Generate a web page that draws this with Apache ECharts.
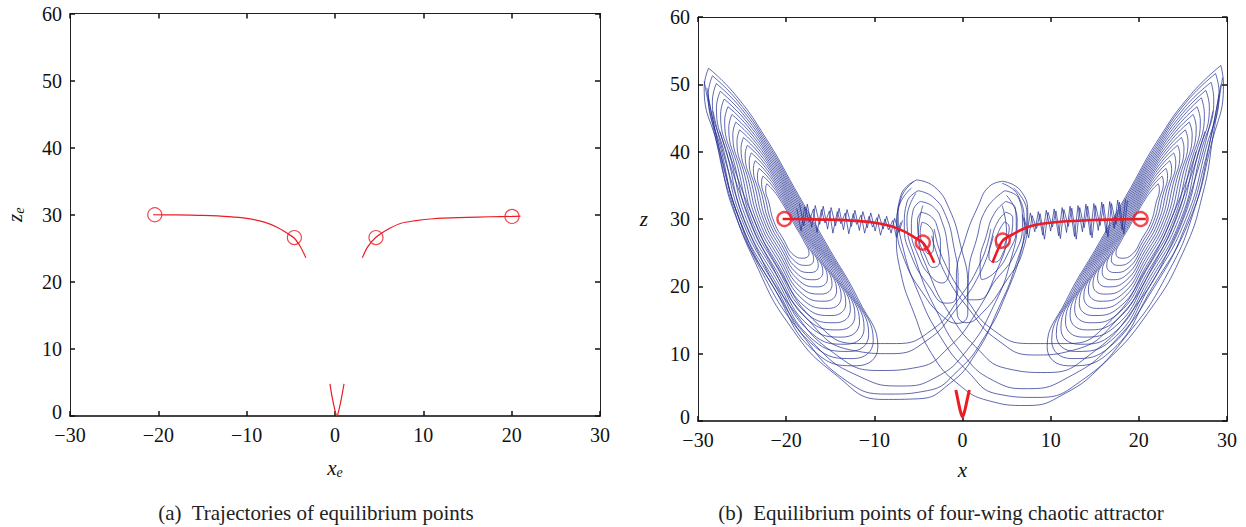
<!DOCTYPE html>
<html>
<head>
<meta charset="utf-8">
<script src="https://cdn.jsdelivr.net/npm/echarts@6/dist/echarts.min.js"></script>
<style>
  html, body { margin: 0; padding: 0; background: #fff; }
  #chart { width: 1246px; height: 527px; }
</style>
</head>
<body>
<div id="chart"></div>
<script>
// ---- Panel (a): trajectories of the equilibrium points (x_e, z_e) ----
const trackLeftA  = [[-20.6,30.0],[-18,29.98],[-15,29.9],[-12,29.72],[-10,29.45],[-8,28.9],[-6.5,28.1],[-5.5,27.3],[-4.6,26.5],[-3.9,25.2],[-3.3,23.6]];
const trackRightA = [[3.1,23.6],[3.7,25.2],[4.6,26.6],[5.8,27.7],[7.4,28.7],[9,29.1],[11.1,29.4],[14.9,29.6],[17.5,29.7],[20.0,29.75],[21.0,29.8]];
const trackZeroA  = [[-0.57,4.8],[-0.35,3.0],[-0.1,1.4],[0.1,0.3],[0.2,0.0],[0.35,0.4],[0.6,1.8],[0.82,3.3],[1.02,4.8]];
const equilibriaA = [[-20.4,30.0],[-4.6,26.6],[4.64,26.6],[20.04,29.75]];

// ---- Panel (b): equilibrium points over the four-wing attractor (x, z) ----
const trackLeftB  = [[-20.4,30.0],[-18,29.98],[-15,29.9],[-12,29.72],[-10,29.45],[-8,28.9],[-6.5,28.1],[-5.5,27.3],[-4.5,26.5],[-3.8,25.1],[-3.2,23.5]];
const trackRightB = [[3.4,23.5],[3.9,25.1],[4.56,26.8],[5.8,27.8],[7.4,28.8],[9,29.3],[11.1,29.6],[14.9,29.85],[17.5,29.95],[20.2,30.0],[20.8,30.0]];
const trackZeroB  = [[-0.75,4.6],[-0.5,3.0],[-0.25,1.5],[0,0.6],[0.25,1.5],[0.5,3.0],[0.78,4.6]];
const equilibriaB = [[-20.2,30.0],[-4.5,26.5],[4.56,26.8],[20.2,30.0]];

// left wing of the attractor: nested loops round (-20, 30), outermost first
const leftWing = [
  [[-28.8,52.4],[-25.8,48.5],[-22.3,42.0],[-18.8,34.0],[-15.3,26.0],[-11.8,18.0],[-9.6,11.0],[-12.0,8.2],[-16.5,10.0],[-21.5,20.0],[-25.6,30.0],[-27.8,41.0],[-29.3,49.5],[-28.8,52.4]],
  [[-28.36,51.26],[-25.51,47.55],[-22.19,41.38],[-18.86,33.78],[-15.54,26.18],[-12.21,18.58],[-10.12,11.93],[-12.4,9.27],[-16.68,10.98],[-21.43,20.48],[-25.32,29.98],[-27.41,40.43],[-28.84,48.5],[-28.36,51.26]],
  [[-27.92,50.11],[-25.22,46.6],[-22.07,40.75],[-18.92,33.55],[-15.77,26.35],[-12.62,19.15],[-10.64,12.85],[-12.8,10.33],[-16.85,11.95],[-21.35,20.95],[-25.04,29.95],[-27.02,39.85],[-28.37,47.5],[-27.92,50.11]],
  [[-27.48,48.97],[-24.93,45.65],[-21.96,40.13],[-18.98,33.33],[-16.01,26.53],[-13.03,19.73],[-11.16,13.78],[-13.2,11.4],[-17.03,12.93],[-21.28,21.43],[-24.76,29.93],[-26.63,39.28],[-27.91,46.5],[-27.48,48.97]],
  [[-27.04,47.82],[-24.64,44.7],[-21.84,39.5],[-19.04,33.1],[-16.24,26.7],[-13.44,20.3],[-11.68,14.7],[-13.6,12.46],[-17.2,13.9],[-21.2,21.9],[-24.48,29.9],[-26.24,38.7],[-27.44,45.5],[-27.04,47.82]],
  [[-26.6,46.68],[-24.35,43.75],[-21.73,38.88],[-19.1,32.88],[-16.48,26.88],[-13.85,20.88],[-12.2,15.63],[-14.0,13.53],[-17.38,14.88],[-21.13,22.38],[-24.2,29.88],[-25.85,38.13],[-26.98,44.5],[-26.6,46.68]],
  [[-26.16,45.53],[-24.06,42.8],[-21.61,38.25],[-19.16,32.65],[-16.71,27.05],[-14.26,21.45],[-12.72,16.55],[-14.4,14.59],[-17.55,15.85],[-21.05,22.85],[-23.92,29.85],[-25.46,37.55],[-26.51,43.5],[-26.16,45.53]],
  [[-25.72,44.39],[-23.77,41.85],[-21.5,37.63],[-19.22,32.43],[-16.95,27.23],[-14.67,22.03],[-13.24,17.48],[-14.8,15.66],[-17.73,16.83],[-20.98,23.33],[-23.64,29.83],[-25.07,36.98],[-26.05,42.5],[-25.72,44.39]],
  [[-25.28,43.24],[-23.48,40.9],[-21.38,37.0],[-19.28,32.2],[-17.18,27.4],[-15.08,22.6],[-13.76,18.4],[-15.2,16.72],[-17.9,17.8],[-20.9,23.8],[-23.36,29.8],[-24.68,36.4],[-25.58,41.5],[-25.28,43.24]],
  [[-24.84,42.1],[-23.19,39.95],[-21.27,36.38],[-19.34,31.98],[-17.42,27.58],[-15.49,23.18],[-14.28,19.33],[-15.6,17.79],[-18.08,18.78],[-20.83,24.28],[-23.08,29.78],[-24.29,35.83],[-25.12,40.5],[-24.84,42.1]],
  [[-24.4,40.95],[-22.9,39.0],[-21.15,35.75],[-19.4,31.75],[-17.65,27.75],[-15.9,23.75],[-14.8,20.25],[-16.0,18.85],[-18.25,19.75],[-20.75,24.75],[-22.8,29.75],[-23.9,35.25],[-24.65,39.5],[-24.4,40.95]],
  [[-23.96,39.81],[-22.61,38.05],[-21.04,35.13],[-19.46,31.53],[-17.89,27.93],[-16.31,24.33],[-15.32,21.18],[-16.4,19.92],[-18.43,20.73],[-20.68,25.23],[-22.52,29.73],[-23.51,34.68],[-24.19,38.5],[-23.96,39.81]],
  [[-23.52,38.66],[-22.32,37.1],[-20.92,34.5],[-19.52,31.3],[-18.12,28.1],[-16.72,24.9],[-15.84,22.1],[-16.8,20.98],[-18.6,21.7],[-20.6,25.7],[-22.24,29.7],[-23.12,34.1],[-23.72,37.5],[-23.52,38.66]],
  [[-23.08,37.52],[-22.03,36.15],[-20.81,33.88],[-19.58,31.08],[-18.36,28.28],[-17.13,25.48],[-16.36,23.03],[-17.2,22.05],[-18.78,22.68],[-20.53,26.18],[-21.96,29.68],[-22.73,33.53],[-23.26,36.5],[-23.08,37.52]],
  [[-22.64,36.37],[-21.74,35.2],[-20.69,33.25],[-19.64,30.85],[-18.59,28.45],[-17.54,26.05],[-16.88,23.95],[-17.6,23.11],[-18.95,23.65],[-20.45,26.65],[-21.68,29.65],[-22.34,32.95],[-22.79,35.5],[-22.64,36.37]],
  [[-22.2,35.23],[-21.45,34.25],[-20.58,32.63],[-19.7,30.63],[-18.83,28.63],[-17.95,26.63],[-17.4,24.88],[-18.0,24.18],[-19.13,24.63],[-20.38,27.13],[-21.4,29.63],[-21.95,32.38],[-22.33,34.5],[-22.2,35.23]]
];

// right wing of the attractor: nested loops round (20, 30), outermost first
const rightWing = [
  [[29.3,52.8],[25.9,48.5],[22.3,42.0],[18.8,34.0],[15.3,26.0],[11.8,18.0],[9.6,11.0],[12.0,8.2],[16.5,10.0],[21.6,20.0],[25.8,30.0],[28.2,41.0],[29.6,50.0],[29.3,52.8]],
  [[28.7,51.6],[25.51,47.55],[22.19,41.38],[18.86,33.78],[15.54,26.18],[12.21,18.58],[10.12,11.93],[12.4,9.27],[16.68,10.98],[21.43,20.48],[25.32,29.98],[27.6,40.43],[29.1,48.8],[28.7,51.6]],
  [[28.2,50.3],[25.22,46.6],[22.07,40.75],[18.92,33.55],[15.77,26.35],[12.62,19.15],[10.64,12.85],[12.8,10.33],[16.85,11.95],[21.35,20.95],[25.04,29.95],[27.02,39.85],[28.5,47.7],[28.2,50.3]],
  [[27.6,49.1],[24.93,45.65],[21.96,40.13],[18.98,33.33],[16.01,26.53],[13.03,19.73],[11.16,13.78],[13.2,11.4],[17.03,12.93],[21.28,21.43],[24.76,29.93],[26.63,39.28],[28.0,46.6],[27.6,49.1]],
  [[27.1,48.0],[24.64,44.7],[21.84,39.5],[19.04,33.1],[16.24,26.7],[13.44,20.3],[11.68,14.7],[13.6,12.46],[17.2,13.9],[21.2,21.9],[24.48,29.9],[26.24,38.7],[27.44,45.5],[27.1,48.0]],
  [[26.6,46.68],[24.35,43.75],[21.73,38.88],[19.1,32.88],[16.48,26.88],[13.85,20.88],[12.2,15.63],[14.0,13.53],[17.38,14.88],[21.13,22.38],[24.2,29.88],[25.85,38.13],[26.98,44.5],[26.6,46.68]],
  [[26.16,45.53],[24.06,42.8],[21.61,38.25],[19.16,32.65],[16.71,27.05],[14.26,21.45],[12.72,16.55],[14.4,14.59],[17.55,15.85],[21.05,22.85],[23.92,29.85],[25.46,37.55],[26.51,43.5],[26.16,45.53]],
  [[25.72,44.39],[23.77,41.85],[21.5,37.63],[19.22,32.43],[16.95,27.23],[14.67,22.03],[13.24,17.48],[14.8,15.66],[17.73,16.83],[20.98,23.33],[23.64,29.83],[25.07,36.98],[26.05,42.5],[25.72,44.39]],
  [[25.28,43.24],[23.48,40.9],[21.38,37.0],[19.28,32.2],[17.18,27.4],[15.08,22.6],[13.76,18.4],[15.2,16.72],[17.9,17.8],[20.9,23.8],[23.36,29.8],[24.68,36.4],[25.58,41.5],[25.28,43.24]],
  [[24.84,42.1],[23.19,39.95],[21.27,36.38],[19.34,31.98],[17.42,27.58],[15.49,23.18],[14.28,19.33],[15.6,17.79],[18.08,18.78],[20.83,24.28],[23.08,29.78],[24.29,35.83],[25.12,40.5],[24.84,42.1]],
  [[24.4,40.95],[22.9,39.0],[21.15,35.75],[19.4,31.75],[17.65,27.75],[15.9,23.75],[14.8,20.25],[16.0,18.85],[18.25,19.75],[20.75,24.75],[22.8,29.75],[23.9,35.25],[24.65,39.5],[24.4,40.95]],
  [[23.96,39.81],[22.61,38.05],[21.04,35.13],[19.46,31.53],[17.89,27.93],[16.31,24.33],[15.32,21.18],[16.4,19.92],[18.43,20.73],[20.68,25.23],[22.52,29.73],[23.51,34.68],[24.19,38.5],[23.96,39.81]],
  [[23.52,38.66],[22.32,37.1],[20.92,34.5],[19.52,31.3],[18.12,28.1],[16.72,24.9],[15.84,22.1],[16.8,20.98],[18.6,21.7],[20.6,25.7],[22.24,29.7],[23.12,34.1],[23.72,37.5],[23.52,38.66]],
  [[23.08,37.52],[22.03,36.15],[20.81,33.88],[19.58,31.08],[18.36,28.28],[17.13,25.48],[16.36,23.03],[17.2,22.05],[18.78,22.68],[20.53,26.18],[21.96,29.68],[22.73,33.53],[23.26,36.5],[23.08,37.52]],
  [[22.64,36.37],[21.74,35.2],[20.69,33.25],[19.64,30.85],[18.59,28.45],[17.54,26.05],[16.88,23.95],[17.6,23.11],[18.95,23.65],[20.45,26.65],[21.68,29.65],[22.34,32.95],[22.79,35.5],[22.64,36.37]],
  [[22.2,35.23],[21.45,34.25],[20.58,32.63],[19.7,30.63],[18.83,28.63],[17.95,26.63],[17.4,24.88],[18.0,24.18],[19.13,24.63],[20.38,27.13],[21.4,29.63],[21.95,32.38],[22.33,34.5],[22.2,35.23]]
];

// small loops round the inner equilibria (-4.5, 26.5) and (4.5, 26.8)
const centreLeftLoops = [
  [[-5.2,35.8],[-3.2,34.8],[-1.5,31.5],[-0.2,26],[0.6,20],[0.6,16],[-0.5,14.5],[-2.2,15.5],[-4.5,19],[-6.6,24],[-7.4,29],[-7.0,33.5],[-5.2,35.8]],
  [[-5.0,34.2],[-3.3,33.2],[-1.9,30.5],[-1.0,26],[-0.5,21],[-0.8,18],[-1.9,17.5],[-3.8,20],[-5.8,24.5],[-6.6,29],[-6.3,32.5],[-5.0,34.2]],
  [[-4.8,32.6],[-3.3,31.8],[-2.3,29.5],[-1.7,26],[-1.5,22.5],[-2.3,20.5],[-3.6,21.5],[-5.0,24.5],[-5.8,28.5],[-5.6,31.3],[-4.8,32.6]],
  [[-4.7,31.0],[-3.5,30.3],[-2.8,28.5],[-2.5,26],[-2.6,23.5],[-3.3,22.8],[-4.2,24.5],[-5.0,27.5],[-5.1,29.8],[-4.7,31.0]],
  [[-4.6,29.5],[-3.8,29],[-3.3,27.5],[-3.3,25.5],[-3.8,24.8],[-4.4,26],[-4.8,28],[-4.6,29.5]]
];
const centreRightLoops = [
  [[4.6,35.6],[6.6,34.2],[7.4,30.5],[6.9,25.5],[4.8,20.5],[2.2,16],[0.4,14.6],[-0.6,16],[-0.7,21],[0.3,27],[1.8,32],[3.0,34.8],[4.6,35.6]],
  [[4.8,34.2],[6.4,33.0],[6.8,29.5],[6.0,25],[3.8,21],[1.7,18],[0.6,18],[0.7,22],[1.6,27],[2.7,31.5],[4.8,34.2]],
  [[4.9,32.6],[6.0,31.6],[6.1,28.8],[5.2,25],[3.6,22],[2.2,21],[2.0,23.5],[2.7,27.5],[3.6,30.8],[4.9,32.6]],
  [[4.9,31.0],[5.7,30.2],[5.6,28],[4.8,25.5],[3.7,23.6],[3.0,24.2],[3.3,27],[4.0,29.6],[4.9,31.0]],
  [[4.8,29.6],[5.3,28.8],[5.0,27],[4.3,25.6],[3.8,26],[4.0,27.8],[4.8,29.6]]
];

// excursions that leave a wing, pass under the centre and wind round the opposite inner point
const crossFromLeft = [
  [[-29.3,50.5],[-28.0,42],[-26.3,33],[-23.5,23.5],[-19.5,14],[-14.5,7],[-9,3.2],[-5,3.3],[-1.5,5.5],[1.5,10],[4,16.5],[6,23],[7,29],[6.3,33.5],[4.5,35.3]],
  [[-29.0,49.5],[-27.6,40.5],[-25.6,31],[-22.7,22],[-18.3,13],[-13.2,6],[-8.5,4],[-4,4.5],[-0.5,7.5],[2.5,12.5],[5,19],[6.8,26],[7.3,31],[5.8,34.6]],
  [[-28.9,48.5],[-27.3,39],[-25.0,29],[-21.5,20],[-16.5,11],[-11.5,6.5],[-7,5.2],[-3,6.5],[0.5,10.5],[3.5,17],[5.5,24],[6.2,30],[5,33.5]],
  [[-28.3,46],[-26.3,36],[-23.5,26],[-19.5,17],[-14.5,10],[-9.5,7.5],[-5,8],[-1.5,11],[1.5,16],[3.8,22],[5,28],[4.5,32]],
  [[-27.5,43],[-25,33],[-22,24],[-17.5,15],[-12.5,10.5],[-8,10],[-4,12],[-0.8,16.5],[2,22],[3.5,27.5]],
  [[-26.5,40],[-24.0,31],[-20.8,22.5],[-16.5,14.5],[-12.0,11.5],[-7.5,11.5],[-3.5,13.5],[-0.5,18],[2.2,24],[3.2,28.5]]
];
const crossFromRight = [
  [[29.5,51],[28.5,43],[27.3,34],[25,25],[21,16],[16,8.5],[11.5,4],[7.3,2.3],[3,3],[-0.5,5.5],[-3.5,10],[-5.5,16],[-7,22],[-7.5,28],[-7,33],[-5.5,35.6]],
  [[29.3,50],[28.0,41],[26.2,31],[23.3,22],[18.8,13],[13.5,6],[8.5,3.5],[4,4],[0.5,7.5],[-2.5,12.5],[-5,19],[-6.8,26],[-7.3,31],[-5.8,34.6]],
  [[29.1,48.5],[27.6,39],[25.3,29],[21.8,20],[17,11.5],[12,6.5],[7.5,4.8],[3.5,6],[0,10],[-3,16.5],[-5.2,23.5],[-6.3,30],[-5.3,33.8]],
  [[28.4,46],[26.4,36],[23.6,26],[19.6,17],[14.6,10],[9.6,7.2],[5,7.8],[1.5,11],[-1.5,16],[-3.8,22],[-5,28],[-4.5,32]],
  [[27.5,43],[25,33],[22,24],[17.5,15],[12.5,10.5],[8,9.8],[4,12],[0.8,16.5],[-2,22],[-3.5,27.5]],
  [[26.5,40],[24.0,31],[20.8,22.5],[16.5,14.5],[12.0,11.5],[7.5,11.5],[3.5,13.5],[0.5,18],[-2.2,24],[-3.2,28.5]]
];

// short hooked strands along the bridge between each wing and its inner point
const bridgeLeft = [[-18.5,32.3],[-18.0,29.0],[-17.6,32.2],[-17.1,28.8],[-16.7,32.0],[-16.2,29.2],[-15.8,31.9],[-15.3,28.5],[-14.9,31.7],[-14.4,29.0],[-14.0,31.6],[-13.5,28.4],[-13.1,31.4],[-12.6,28.9],[-12.2,31.3],[-11.7,28.3],[-11.3,31.1],[-10.8,28.7],[-10.4,30.9],[-9.9,28.2],[-9.5,30.7],[-9.0,28.5],[-8.6,30.4],[-8.1,27.9],[-7.7,30.1],[-7.2,28.0],[-6.8,29.8]];
const bridgeLeft2 = [[-18.8,31.6],[-18.3,28.2],[-17.9,31.8],[-17.4,29.6],[-16.9,31.5],[-16.5,28.0],[-16.0,31.4],[-15.6,29.4],[-15.1,31.2],[-14.7,27.9],[-14.2,31.1],[-13.8,29.3],[-13.3,30.9],[-12.9,27.8],[-12.4,30.8],[-12.0,29.2],[-11.5,30.6],[-11.1,27.9],[-10.6,30.4],[-10.2,28.8],[-9.7,30.2],[-9.3,27.6],[-8.8,30.0],[-8.4,28.4],[-7.9,29.8],[-7.5,27.3],[-7.0,29.5]];
const bridgeRight = [[6.8,30.6],[7.3,27.8],[7.7,30.9],[8.2,28.1],[8.6,31.1],[9.1,27.6],[9.5,31.3],[10.0,28.2],[10.4,31.5],[10.9,27.5],[11.3,31.7],[11.8,28.0],[12.2,31.9],[12.7,27.4],[13.1,32.0],[13.6,28.1],[14.0,32.2],[14.5,27.6],[14.9,32.3],[15.4,28.3],[15.8,32.5],[16.3,27.9],[16.7,32.6],[17.2,28.6],[17.6,32.8],[18.1,28.4],[18.5,33.0]];
const bridgeRight2 = [[7.0,30.2],[7.5,27.2],[7.9,30.5],[8.4,28.6],[8.8,30.8],[9.3,27.0],[9.7,31.0],[10.2,28.8],[10.6,31.2],[11.1,27.1],[11.5,31.4],[12.0,28.9],[12.4,31.6],[12.9,27.0],[13.3,31.7],[13.8,28.7],[14.2,31.9],[14.7,27.2],[15.1,32.0],[15.6,29.0],[16.0,32.2],[16.5,27.3],[16.9,32.3],[17.4,29.2],[17.8,32.5],[18.3,27.8],[18.7,32.7]];

const ticks = [-30, -20, -10, 0, 10, 20, 30];
const zTicks = [0, 10, 20, 30, 40, 50, 60];

const SERIF = "'Liberation Serif', 'DejaVu Serif', serif";
const RED = '#ec1c24';
const BLUE = 'rgba(34, 46, 145, 0.85)';

function fmt(v) { return v < 0 ? '\u2212' + Math.abs(v) : String(v); }
// the bottom z label sits a touch higher so it clears the first x label
function fmtZ(v) { return v === 0 ? '{lift|0}' : String(v); }

function boxAxes(gridIndex, name, yName, yRich, xGap, yGap, yRotate) {
  const line = { show: true, onZero: false, lineStyle: { color: '#222', width: 1 } };
  const tick = { show: true, inside: true, length: 5, lineStyle: { color: '#111', width: 1.5 } };
  const x = [
    { gridIndex, type: 'value', min: ticks[0], max: ticks[ticks.length - 1], interval: 10, position: 'bottom',
      axisLine: { show: true, onZero: false, lineStyle: { color: '#444', width: 2 } }, axisTick: tick,
      axisLabel: { formatter: fmt, fontFamily: SERIF, fontSize: 20, lineHeight: 14, color: '#111', margin: 12 },
      splitLine: { show: false }, name, nameLocation: 'middle', nameGap: xGap,
      nameTextStyle: { rich: yRich } },
    { gridIndex, type: 'value', min: ticks[0], max: ticks[ticks.length - 1], interval: 10, position: 'top',
      axisLine: line, axisTick: tick, axisLabel: { show: false }, splitLine: { show: false } }
  ];
  const y = [
    { gridIndex, type: 'value', min: zTicks[0], max: zTicks[zTicks.length - 1], interval: 10, position: 'left',
      axisLine: line, axisTick: tick,
      axisLabel: { formatter: fmtZ, fontFamily: SERIF, fontSize: 20, lineHeight: 14, color: '#111', margin: 8,
        rich: { lift: { fontFamily: SERIF, fontSize: 20, lineHeight: 14, color: '#111', padding: [0, 0, 8, 0] } } },
      splitLine: { show: false }, name: yName, nameLocation: 'middle', nameGap: yGap, nameRotate: yRotate,
      nameTextStyle: { rich: yRich } },
    { gridIndex, type: 'value', min: zTicks[0], max: zTicks[zTicks.length - 1], interval: 10, position: 'right',
      axisLine: line, axisTick: tick, axisLabel: { show: false }, splitLine: { show: false } }
  ];
  return { x, y };
}

const rich = {
  v: { fontFamily: SERIF, fontStyle: 'italic', fontSize: 21, color: '#111' },
  s: { fontFamily: SERIF, fontStyle: 'italic', fontSize: 14, color: '#111', padding: [9, 0, 0, 0] }
};

const axA = boxAxes(0, '{v|x}{s|e}', '{v|z}{s|e}', rich, 40, 44, 90);
const axB = boxAxes(1, '{v|x}', '{v|z}', rich, 38, 50, 0);

const series = [];
function addLine(data, xi, yi, color, width, smooth, z) {
  series.push({ type: 'line', data, xAxisIndex: xi, yAxisIndex: yi, showSymbol: false, symbol: 'none',
    smooth, z, silent: true, animation: false, lineStyle: { color, width } });
}

// panel (a)
addLine(trackLeftA, 0, 0, RED, 1.2, 0.3, 5);
addLine(trackRightA, 0, 0, RED, 1.2, 0.3, 5);
addLine(trackZeroA, 0, 0, RED, 1.2, 0.3, 5);
series.push({ type: 'scatter', data: equilibriaA, xAxisIndex: 0, yAxisIndex: 0, symbol: 'circle', symbolSize: 14,
  z: 6, silent: true, animation: false, itemStyle: { color: 'rgba(0,0,0,0)', borderColor: RED, borderWidth: 1.2 } });

// panel (b): attractor first, equilibrium tracks on top
[leftWing, rightWing, centreLeftLoops, centreRightLoops, crossFromLeft, crossFromRight].forEach(group => {
  group.forEach(loop => addLine(loop, 2, 2, BLUE, 0.85, 0.5, 2));
});
[bridgeLeft, bridgeLeft2, bridgeRight, bridgeRight2].forEach(b => addLine(b, 2, 2, BLUE, 0.85, false, 2));
addLine(trackLeftB, 2, 2, RED, 2.6, 0.3, 5);
addLine(trackRightB, 2, 2, RED, 2.6, 0.3, 5);
addLine(trackZeroB, 2, 2, RED, 3, 0.3, 5);
series.push({ type: 'scatter', data: equilibriaB, xAxisIndex: 2, yAxisIndex: 2, symbol: 'circle', symbolSize: 14,
  z: 6, silent: true, animation: false, itemStyle: { color: 'rgba(0,0,0,0)', borderColor: RED, borderWidth: 2.4 } });

const chart = echarts.init(document.getElementById('chart'), null, { renderer: 'svg' });
chart.setOption({
  animation: false,
  backgroundColor: '#fff',
  grid: [
    { left: 70, top: 13.5, width: 530, height: 402.5 },
    { left: 698, top: 17, width: 529, height: 404 }
  ],
  xAxis: [...axA.x, ...axB.x],
  yAxis: [...axA.y, ...axB.y],
  title: [
    { text: '(a)  Trajectories of equilibrium points', left: 311, top: 497, textAlign: 'center',
      textStyle: { fontFamily: SERIF, fontSize: 21, fontWeight: 'normal', color: '#222' } },
    { text: '(b)  Equilibrium points of four-wing chaotic attractor', left: 936, top: 497, textAlign: 'center',
      textStyle: { fontFamily: SERIF, fontSize: 21, fontWeight: 'normal', color: '#222' } }
  ],
  series
});
</script>
</body>
</html>
